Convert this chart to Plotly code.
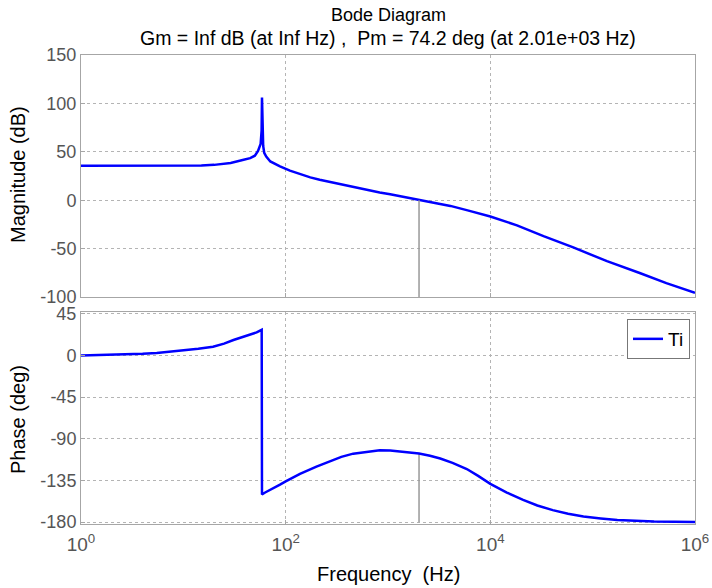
import plotly.graph_objects as go

# ---- data ----
mag_freq = [1, 3, 10, 15, 20, 29, 38, 45, 50, 53.7, 56.9, 58.2, 58.7, 59.3, 60.3,
            61.7, 64.6, 70.8, 80, 88, 110, 140, 174, 215, 269, 340, 427, 540, 660, 830,
            1050, 1400, 1780, 2010, 2800, 4070, 6000, 10000, 18200, 33100, 64600, 138000,
            288000, 525000, 1000000]
mag_db = [35.5, 35.5, 35.6, 35.8, 36.5, 38.5, 41.5, 43.5, 46, 51, 58, 72, 106, 72, 56,
          49, 45, 40, 37, 35, 30.5, 26.5, 23.6, 21.2, 19, 16.5, 14, 11.8, 9.9, 8,
          6.2, 3.5, 1.3, 0, -2.8, -5.9, -10.5, -16.8, -26, -37.2, -48.8, -63,
          -75.2, -85.7, -95.6]

ph_freq = [1, 1.5, 2.24, 3, 4, 5.5, 6.9, 10, 14, 19.5, 25, 30.9, 38, 44.7, 52, 58.3,
           58.7, 63, 75, 88, 100, 120, 138, 200, 269, 350, 457, 600, 832, 1050, 1320, 2010,
           2570, 3240, 4270, 5890, 7600, 10000, 14500, 20900, 28800, 40700, 57500, 81300,
           120000, 174000, 398000, 1000000]
ph_deg = [0, 0.3, 0.8, 1.2, 1.8, 2.8, 3.8, 5.5, 7.3, 9.5, 12.8, 16.7, 19.8, 22, 25, 27.7,
          -150, -148, -144, -139.5, -136, -131.5, -127.8, -120, -114, -109.5, -106, -104,
          -102.4, -102.6, -104, -105.8, -108.3, -111.3, -116, -122.6, -130, -138.6, -148,
          -156, -162, -167, -171, -174, -176, -177.7, -179.2, -179.8]

pm_freq = 2010          # phase-margin crossover frequency (Hz)
pm_deg = 74.2
mag_ticks = [150, 100, 50, 0, -50, -100]
ph_ticks = [45, 0, -45, -90, -135, -180]
x_tickvals = [1, 100, 10000, 1000000]
x_ticktext = ["10<sup>0</sup>", "10<sup>2</sup>", "10<sup>4</sup>", "10<sup>6</sup>"]

FONT = "Liberation Sans, Arial, sans-serif"
BLUE = "#0000ff"
FRAME = "#a6a6a6"
GRID = "#b4b4b4"
TICKC = "#555555"

# layout geometry (pixels)
W, H = 712, 588
L, R, T, B = 81, 17, 55, 64
PH = H - T - B


def py(pix):
    return (H - B - pix) / PH


def px(pix):
    return (pix - L) / (W - L - R)


fig = go.Figure()
fig.add_trace(go.Scatter(x=mag_freq, y=mag_db, mode="lines", line=dict(color=BLUE, width=2.5),
                         xaxis="x", yaxis="y", showlegend=False))
fig.add_trace(go.Scatter(x=[pm_freq, pm_freq], y=[0, mag_ticks[-1]], mode="lines",
                         line=dict(color="#999999", width=1.5), xaxis="x", yaxis="y",
                         showlegend=False, hoverinfo="skip"))
fig.add_trace(go.Scatter(x=[pm_freq, pm_freq], y=[-180 + pm_deg, -180], mode="lines",
                         line=dict(color="#999999", width=1.5), xaxis="x2", yaxis="y2",
                         showlegend=False, hoverinfo="skip"))
fig.add_trace(go.Scatter(x=ph_freq, y=ph_deg, mode="lines", line=dict(color=BLUE, width=2.5),
                         xaxis="x2", yaxis="y2", name="Ti", showlegend=True))

common_x = dict(type="log", range=[0, 6], showline=True, linecolor=FRAME, linewidth=1,
                mirror=True, showgrid=True, gridcolor=GRID, griddash="dot", gridwidth=1,
                tickvals=x_tickvals, zeroline=False, ticks="inside", ticklen=4, tickcolor=FRAME,
                automargin=False)
common_y = dict(showline=True, linecolor=FRAME, linewidth=1, mirror=True, showgrid=True,
                gridcolor=GRID, griddash="dot", gridwidth=1, zeroline=False,
                ticks="inside", ticklen=4, tickcolor=FRAME, automargin=False,
                tickfont=dict(family=FONT, size=18, color=TICKC))

ann = [
    dict(text="Bode Diagram", x=px(388), y=py(15), xref="paper", yref="paper",
         xanchor="center", yanchor="middle", showarrow=False,
         font=dict(family=FONT, size=18, color="black")),
    dict(text="Gm = Inf dB (at Inf Hz) ,  Pm = 74.2 deg (at 2.01e+03 Hz)", x=px(388), y=py(38),
         xref="paper", yref="paper", xanchor="center", yanchor="middle", showarrow=False,
         font=dict(family=FONT, size=19.5, color="black")),
    dict(text="Magnitude (dB)", x=px(18), y=py(175), xref="paper", yref="paper",
         xanchor="center", yanchor="middle", textangle=-90, showarrow=False,
         font=dict(family=FONT, size=20, color="black")),
    dict(text="Phase (deg)", x=px(18), y=py(420), xref="paper", yref="paper",
         xanchor="center", yanchor="middle", textangle=-90, showarrow=False,
         font=dict(family=FONT, size=20, color="black")),
    dict(text="Frequency  (Hz)", x=px(388), y=py(574), xref="paper", yref="paper",
         xanchor="center", yanchor="middle", showarrow=False,
         font=dict(family=FONT, size=20, color="black")),
]

fig.update_layout(
    width=W, height=H, autosize=False,
    margin=dict(l=L, r=R, t=T, b=B, pad=0),
    paper_bgcolor="white", plot_bgcolor="white",
    font=dict(family=FONT, color="black"),
    xaxis=dict(common_x, domain=[0, 1], anchor="y", showticklabels=False),
    yaxis=dict(common_y, domain=[py(297), 1], range=[-100, 150], tickvals=mag_ticks,
               ticktext=[str(v) for v in mag_ticks], anchor="x"),
    xaxis2=dict(common_x, domain=[0, 1], anchor="y2", ticktext=x_ticktext,
                tickfont=dict(family=FONT, size=19, color=TICKC), ticklabelstandoff=3),
    yaxis2=dict(common_y, domain=[0, py(312)], range=[-182, 47], tickvals=ph_ticks,
                ticktext=[str(v) for v in ph_ticks], anchor="x2"),
    legend=dict(x=px(690), y=py(319), xanchor="right", yanchor="top", bgcolor="white",
                bordercolor="#777777", borderwidth=1, font=dict(family=FONT, size=19, color="black"),
                tracegroupgap=0),
    annotations=ann,
)

fig.write_html("out.html")
